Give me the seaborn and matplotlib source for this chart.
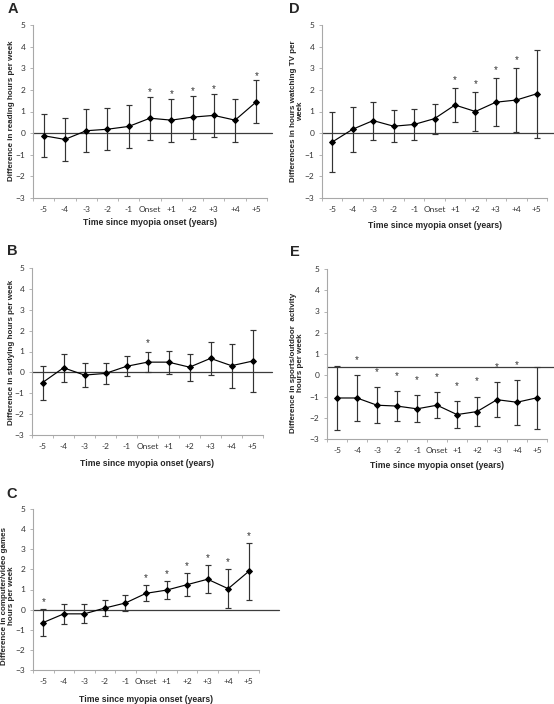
import numpy as np
import pandas as pd
import seaborn as sns
import matplotlib.pyplot as plt

# time points relative to myopia onset
labels = ['-5', '-4', '-3', '-2', '-1', 'Onset', '+1', '+2', '+3', '+4', '+5']

# A - reading
reading_mean = [-0.12, -0.29, 0.11, 0.18, 0.31, 0.69, 0.60, 0.74, 0.82, 0.60, 1.45]
reading_err = [1.00, 1.00, 1.00, 0.98, 0.99, 1.00, 0.99, 0.99, 0.99, 0.99, 0.99]
reading_sig = [0, 0, 0, 0, 0, 1, 1, 1, 1, 0, 1]

# B - studying
studying_mean = [-0.49, 0.22, -0.13, -0.05, 0.29, 0.49, 0.49, 0.25, 0.67, 0.32, 0.54]
studying_err = [0.81, 0.66, 0.56, 0.50, 0.48, 0.47, 0.55, 0.65, 0.80, 1.05, 1.50]
studying_sig = [0, 0, 0, 0, 0, 1, 0, 0, 0, 0, 0]

# C - computer / video games
computer_mean = [-0.64, -0.21, -0.21, 0.08, 0.33, 0.81, 0.97, 1.24, 1.51, 1.04, 1.90]
computer_err = [0.65, 0.51, 0.47, 0.41, 0.40, 0.39, 0.46, 0.56, 0.70, 0.98, 1.40]
computer_sig = [1, 0, 0, 0, 0, 1, 1, 1, 1, 1, 1]

# D - TV
tv_mean = [-0.41, 0.18, 0.58, 0.32, 0.40, 0.67, 1.30, 1.00, 1.43, 1.53, 1.82]
tv_err = [1.40, 1.04, 0.88, 0.74, 0.70, 0.69, 0.80, 0.90, 1.12, 1.50, 2.03]
tv_sig = [0, 0, 0, 0, 0, 0, 1, 1, 1, 1, 0]

# E - sports / outdoor activity
sports_mean = [-1.07, -1.07, -1.41, -1.45, -1.58, -1.41, -1.85, -1.71, -1.15, -1.27, -1.06]
sports_err = [1.52, 1.08, 0.85, 0.71, 0.63, 0.60, 0.63, 0.70, 0.82, 1.05, 1.45]
sports_sig = [0, 1, 1, 1, 1, 1, 1, 1, 1, 1, 0]

W, H = 554, 704
sns.set_style('ticks')
plt.rcParams['font.family'] = ['Liberation Sans', 'DejaVu Sans']

fig = plt.figure(figsize=(W / 100, H / 100), dpi=100)

GREY = '#a8a8a8'
INK = '#333333'


def px_text(x, y, s, **kw):
    fig.text(x / W, 1 - y / H, s, **kw)


def draw_panel(box, letter, letter_xy, ylabel, ylabel_xy, xlabel_y,
               mean, err, sig, star_off, ref_y, ref_end):
    x0, x1, ytop, ybot = box
    ax = fig.add_axes([x0 / W, 1 - ybot / H, (x1 - x0) / W, (ybot - ytop) / H])
    df = pd.DataFrame({'pos': np.arange(len(labels)), 'mean': mean, 'err': err, 'sig': sig})

    ax.errorbar(df['pos'], df['mean'], yerr=df['err'], fmt='none', ecolor='#333333',
                elinewidth=0.85, capsize=2, capthick=0.85, zorder=2)
    sns.lineplot(data=df, x='pos', y='mean', ax=ax, color='black', lw=0.85,
                 marker='D', markersize=3.0, markeredgecolor='black', zorder=3)

    for _, r in df[df['sig'] == 1].iterrows():
        ax.text(r['pos'], r['mean'] + r['err'] + star_off, '*', ha='center', va='center',
                fontsize=7, color=INK)

    # reference line, runs a little past the axis on the right
    ax.plot([0, ref_end], [ref_y, ref_y], transform=ax.get_yaxis_transform(),
            color='#3c3c3c', lw=0.9, clip_on=False, zorder=1)

    ax.set_xlim(-0.5, len(labels) - 0.5)
    ax.set_ylim(-3, 5)
    ax.set_xticks(range(len(labels)))
    ax.set_xticklabels(labels)
    ax.set_xticks(np.arange(-0.5, len(labels), 1), minor=True)
    ax.set_yticks(range(-3, 6))
    ax.tick_params(axis='x', which='major', length=0, pad=6, labelsize=6,
                   labelcolor=INK, labelfontfamily='Lato')
    ax.tick_params(axis='x', which='minor', length=2.5, width=0.6, color=GREY)
    ax.tick_params(axis='y', length=2.5, width=0.6, color=GREY, pad=3, labelsize=6,
                   labelcolor=INK, labelfontfamily='Lato')
    ax.set_xlabel('')
    ax.set_ylabel('')
    sns.despine(ax=ax)
    for side in ['left', 'bottom']:
        ax.spines[side].set_color(GREY)
        ax.spines[side].set_linewidth(0.8)

    px_text(*letter_xy, letter, fontsize=10.5, fontweight='bold', ha='center', va='center')
    px_text(*ylabel_xy, ylabel, fontsize=5.8, fontweight='bold', rotation=90,
            ha='center', va='center', linespacing=1.05)
    px_text((x0 + x1) / 2, xlabel_y, 'Time since myopia onset (years)', fontsize=6.2,
            fontweight='bold', ha='center', va='center')
    return ax


draw_panel((33, 267, 25, 198), 'A', (13, 9), 'Difference in reading hours per week', (12, 111), 222,
           reading_mean, reading_err, reading_sig, 0.22, 0, 1.02)
draw_panel((32, 263, 268, 435), 'B', (12, 251), 'Difference in studying hours per week', (12, 352), 464,
           studying_mean, studying_err, studying_sig, 0.42, 0, 1.04)
draw_panel((33, 259, 509, 670), 'C', (12, 494),
           'Difference in computer/video games\nhours per week', (8, 596), 699,
           computer_mean, computer_err, computer_sig, 0.35, 0, 1.09)
draw_panel((322, 547, 25, 198), 'D', (294, 9),
           'Differences in hours watching TV per\nweek', (297, 111), 226,
           tv_mean, tv_err, tv_sig, 0.36, 0, 1.03)
draw_panel((327, 547, 269, 439), 'E', (295, 252),
           'Difference in sports/outdoor  activity\nhours per week', (297, 363), 466,
           sports_mean, sports_err, sports_sig, 0.72, 0.41, 1.03)

fig.savefig('out.png', dpi=100)
